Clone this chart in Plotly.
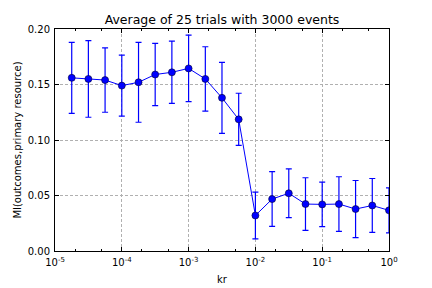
import plotly.graph_objects as go

kr = [1.78e-05, 3.16e-05, 5.62e-05, 1.00e-04, 1.78e-04, 3.16e-04, 5.62e-04,
      1.00e-03, 1.78e-03, 3.16e-03, 5.62e-03, 1.00e-02, 1.78e-02, 3.16e-02,
      5.62e-02, 1.00e-01, 1.78e-01, 3.16e-01, 5.62e-01, 1.00e+00]
mi = [0.156, 0.155, 0.154, 0.149, 0.152, 0.159, 0.161, 0.1645, 0.155, 0.138,
      0.1186, 0.032, 0.0468, 0.052, 0.0423, 0.042, 0.0423, 0.0378, 0.041, 0.0366]
err = [0.032, 0.0345, 0.029, 0.0275, 0.036, 0.028, 0.028, 0.030, 0.029, 0.032,
       0.0235, 0.021, 0.0247, 0.022, 0.0237, 0.020, 0.0246, 0.0257, 0.0243, 0.0203]

xtick_vals = [1e-5, 1e-4, 1e-3, 1e-2, 1e-1, 1e0]
xtick_text = ["10<sup>-5</sup>", "10<sup>-4</sup>", "10<sup>-3</sup>",
              "10<sup>-2</sup>", "10<sup>-1</sup>", "10<sup>0</sup>"]
ytick_vals = [0.00, 0.05, 0.10, 0.15, 0.20]

fig = go.Figure()
fig.add_trace(go.Scatter(
    x=kr, y=mi, mode="lines+markers",
    line=dict(color="#0000ff", width=1),
    marker=dict(color="#0000ff", size=7, line=dict(color="#000033", width=0.6)),
    error_y=dict(type="data", array=err, visible=True, color="#0000ff",
                 thickness=1.2, width=3),
    cliponaxis=True,
))

axis_common = dict(
    showline=True, linecolor="black", linewidth=1, mirror="ticks",
    ticks="inside", tickcolor="black", ticklen=4,
    showgrid=True, gridcolor="#b0b0b0", griddash="3px,2px", gridwidth=1,
    zeroline=False, automargin=False,
    tickfont=dict(family="DejaVu Sans", size=10, color="black"),
)

fig.update_layout(
    width=424, height=280,
    margin=dict(l=47, r=43, t=21, b=37),
    paper_bgcolor="white", plot_bgcolor="white",
    showlegend=False,
    title=dict(text="Average of 25 trials with 3000 events",
               x=0.5, xanchor="center", xref="paper", y=0.96, yanchor="middle",
               font=dict(family="DejaVu Sans", size=12.5, color="black")),
    font=dict(family="DejaVu Sans", color="black"),
    xaxis=dict(type="log", range=[-5, 0], tickvals=xtick_vals, ticktext=xtick_text,
               ticklabelstandoff=2,
               title=dict(text="kr", font=dict(size=10), standoff=8),
               minor=dict(ticks="inside", ticklen=2, tickcolor="black", showgrid=False),
               **axis_common),
    yaxis=dict(range=[0, 0.2], tickvals=ytick_vals, tickformat=".2f",
               ticklabelstandoff=2,
               title=dict(text="MI(outcomes,primary resource)", font=dict(size=10), standoff=4),
               **axis_common),
)

fig.write_html("out.html")
